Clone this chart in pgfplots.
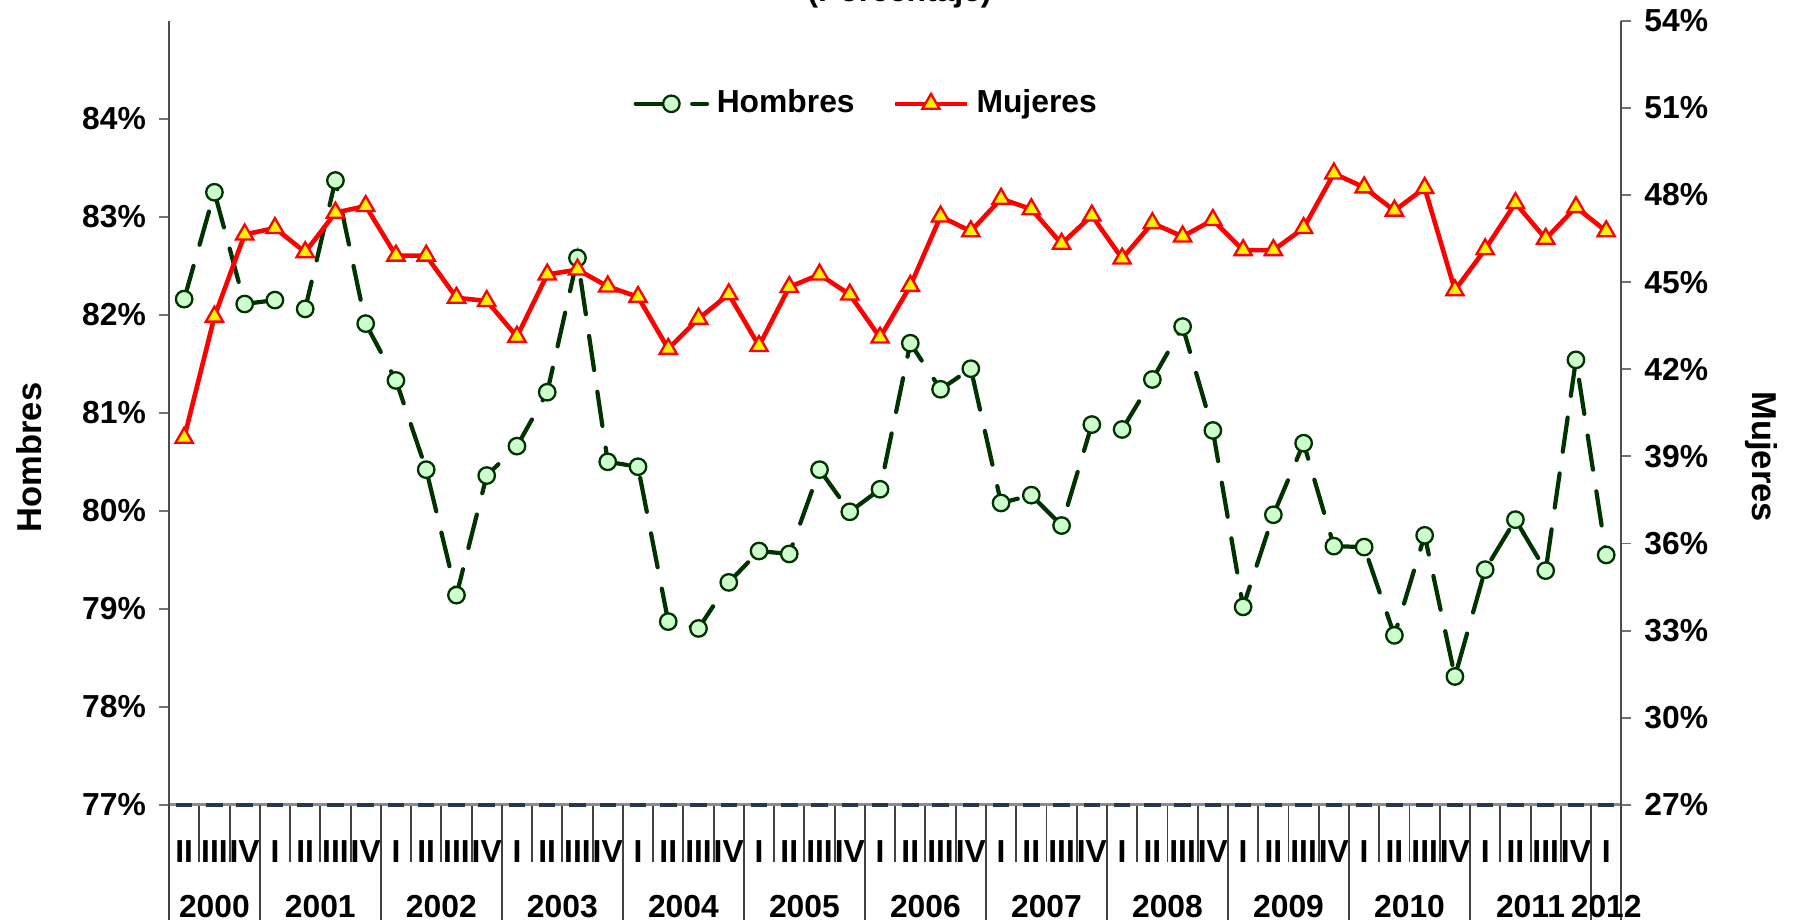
\documentclass[border=0pt]{standalone}
\usepackage{pgfplots}
\usepackage{pgfplotstable}
\pgfplotsset{compat=1.18}
\usepackage{fontspec}
\setmainfont{Liberation Sans}
\definecolor{hgreen}{RGB}{0,51,0}
\definecolor{hfill}{RGB}{204,255,204}
\definecolor{dashnavy}{RGB}{40,55,80}

\pgfplotstableread{
x h m
0 82.16 39.64
1 83.25 43.81
2 82.11 46.64
3 82.15 46.86
4 82.06 46.03
5 83.37 47.39
6 81.91 47.62
7 81.33 45.91
8 80.42 45.91
9 79.14 44.46
10 80.36 44.35
11 80.66 43.12
12 81.21 45.26
13 82.58 45.43
14 80.50 44.85
15 80.45 44.49
16 78.87 42.70
17 78.80 43.74
18 79.27 44.58
19 79.59 42.80
20 79.56 44.83
21 80.42 45.26
22 79.99 44.57
23 80.22 43.09
24 81.71 44.87
25 81.24 47.26
26 81.45 46.75
27 80.08 47.87
28 80.16 47.51
29 79.85 46.32
30 80.88 47.29
31 80.83 45.81
32 81.34 47.03
33 81.88 46.57
34 80.82 47.14
35 79.02 46.10
36 79.96 46.10
37 80.69 46.86
38 79.64 48.74
39 79.63 48.26
40 78.73 47.46
41 79.75 48.24
42 78.31 44.72
43 79.40 46.13
44 79.91 47.72
45 79.39 46.49
46 81.54 47.58
47 79.55 46.75
}\datatable

\begin{document}
\begin{tikzpicture}[font=\fontsize{8.3}{10}\selectfont\bfseries]
\pgfplotsset{
  every axis/.append style={
    width=378.9pt, height=204.6pt, scale only axis,
    xmin=-0.5, xmax=47.5,
    /pgf/number format/assume math mode=true,
    tick align=outside,
    major tick length=2.5pt,
    axis line style={-},
    clip=false,
    yticklabel={\pgfmathprintnumber{\tick}\%},
    ytick style={black!55, line width=0.5pt},
  },
  hline/.style={hgreen, line width=1.1pt, line cap=round, dash pattern=on 9pt off 5.73pt},
  hmark/.style={mark=*, mark size=2.15pt, mark options={solid, fill=hfill, draw=hgreen, line width=0.6pt}},
  hstyle/.style={hline, hmark},
  mstyle/.style={red, line width=1.2pt, mark=triangle*, mark size=2.6pt,
    mark options={solid, fill=yellow, draw=red, line width=0.6pt}},
}
% left axis: Hombres
\begin{axis}[
  axis x line*=bottom, axis y line*=left,
  ymin=77, ymax=85, ytick={77,...,84},
  y axis line style={black!70, line width=0.5pt},
  x axis line style={black!45, line width=0.8pt},
  xtick={-0.5,0.5,...,47.5},
  x tick label as interval,
  xticklabels={II,III,IV,I,II,III,IV,I,II,III,IV,I,II,III,IV,I,II,III,IV,I,II,III,IV,I,II,III,IV,I,II,III,IV,I,II,III,IV,I,II,III,IV,I,II,III,IV,I,II,III,IV,I},
  xtick style={/pgfplots/major tick length=15pt, black!75, line width=0.5pt},
  xticklabel style={anchor=center, yshift=-9.6pt},
  ylabel={Hombres},
  ylabel style={at={(axis description cs:-0.0966,0.443)}, anchor=center, font=\fontsize{9}{11}\selectfont\bfseries},
]
\addplot[draw=dashnavy, line width=0.9pt, dash pattern=on 4.3pt off 3.594pt, dash phase=6.1pt, forget plot]
  coordinates {(-0.5,77) (47.5,77)};
\addplot[hline, no marks, forget plot] table[x=x,y=h]{\datatable};
\addplot[only marks, hmark] table[x=x,y=h]{\datatable};
\end{axis}
% right axis: Mujeres
\begin{axis}[
  axis x line*=bottom, axis y line*=right,
  x axis line style={draw=none},
  ymin=27, ymax=54, ytick={27,30,...,54},
  y axis line style={black!70, line width=0.5pt},
  xtick={-0.5,2.5,6.5,10.5,14.5,18.5,22.5,26.5,30.5,34.5,38.5,42.5,46.5,47.5},
  x tick label as interval,
  xticklabels={2000,2001,2002,2003,2004,2005,2006,2007,2008,2009,2010,2011,2012},
  xtick style={/pgfplots/major tick length=30pt, black!75, line width=0.5pt},
  xticklabel style={anchor=center, yshift=-24pt},
  ylabel={Mujeres},
  ylabel style={at={(axis description cs:1.0966,0.444)}, anchor=center, rotate=-180, font=\fontsize{9}{11}\selectfont\bfseries},
  legend style={draw=none, fill=none, at={(0.482,0.894)}, anchor=center,
    legend columns=2, /tikz/every even column/.append style={column sep=8pt},
    font=\fontsize{8.3}{10}\selectfont\bfseries},
  legend image code/.code={\draw[mark repeat=2,mark phase=2] plot coordinates {(0pt,0pt) (9.3pt,0pt) (18.6pt,0pt)};},
]
\addlegendimage{hstyle}
\addlegendentry{Hombres}
\addplot[mstyle] table[x=x,y=m]{\datatable};
\addlegendentry{Mujeres}
\node[anchor=base] at (rel axis cs:0.503,1) [yshift=5.1pt] {(Porcentaje)};
\end{axis}
\pgfresetboundingbox
\useasboundingbox (-44.1pt,-30pt) rectangle (426.3pt,210pt);
\end{tikzpicture}
\end{document}
